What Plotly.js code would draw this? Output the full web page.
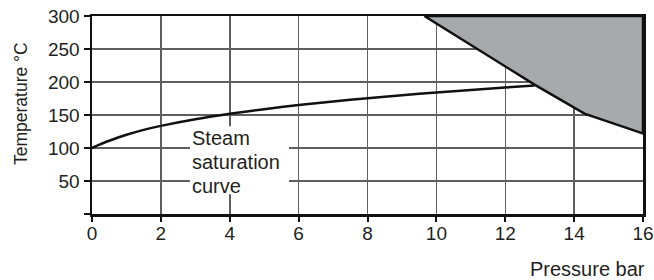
<!DOCTYPE html>
<html>
<head>
<meta charset="utf-8">
<script src="https://cdn.plot.ly/plotly-3.0.1.min.js"></script>
<style>
  html, body { margin: 0; padding: 0; background: #ffffff; }
  #chart { width: 654px; height: 280px; }
</style>
</head>
<body>
<div id="chart"></div>
<script>
// Steam saturation curve (pressure in bar, temperature in °C)
const curvePressure = [0, 0.25, 0.5, 1, 1.5, 2, 3, 4, 5, 6, 7, 8, 9, 10, 11, 12, 12.85];
const curveTemp     = [100, 106, 111, 120, 127.5, 133.5, 143.5, 151.8, 158.8, 165, 170.4, 175.4, 179.9, 184.1, 188, 191.6, 194.8];

// Shaded region boundary (upper right)
const zonePressure = [9.65, 12.85, 14.3, 16, 16, 9.65];
const zoneTemp     = [300, 196, 152, 122, 300, 300];

// Axis ticks
const xTickVals = [0, 2, 4, 6, 8, 10, 12, 14, 16];
const xTickText = ['0', '2', '4', '6', '8', '10', '12', '14', '16'];
const yTickVals = [0, 50, 100, 150, 200, 250, 300];
const yTickText = ['', '50', '100', '150', '200', '250', '300'];

// Text
const labelLines = ['Steam', 'saturation', 'curve'];
const xTitle = 'Pressure bar';
const yTitle = 'Temperature °C';

const FONT = '"Liberation Sans", Arial, sans-serif';
const TXT = '#231f20';

const traces = [
  {
    x: zonePressure, y: zoneTemp,
    type: 'scatter', mode: 'lines',
    fill: 'toself', fillcolor: '#a7a9ac',
    line: { color: '#111111', width: 2.5 },
    hoverinfo: 'skip', showlegend: false
  },
  {
    x: curvePressure, y: curveTemp,
    type: 'scatter', mode: 'lines',
    line: { color: '#111111', width: 2.5, shape: 'spline', smoothing: 0.6 },
    hoverinfo: 'skip', showlegend: false
  }
];

const labelY = [114.7, 79.1, 42.7];
const annotations = labelLines.map((t, i) => ({
  text: t, x: 2.845, y: labelY[i], xref: 'x', yref: 'y',
  xanchor: 'left', yanchor: 'middle', showarrow: false,
  font: { family: FONT, size: 20, color: TXT }
}));
annotations.push({
  text: xTitle, xref: 'paper', yref: 'paper', x: 1.007, y: -0.278,
  xanchor: 'right', yanchor: 'middle', showarrow: false,
  font: { family: FONT, size: 20, color: TXT }
});
annotations.push({
  text: yTitle, xref: 'paper', yref: 'paper', x: -0.129, y: 0.56,
  xanchor: 'center', yanchor: 'middle', textangle: -90, showarrow: false,
  font: { family: FONT, size: 17.5, color: TXT }
});

const layout = {
  width: 654, height: 280,
  margin: { l: 92, r: 11, t: 16, b: 66, pad: 0 },
  paper_bgcolor: '#ffffff', plot_bgcolor: '#ffffff',
  showlegend: false,
  font: { family: FONT, size: 20, color: TXT },
  xaxis: {
    range: [0, 16], tickvals: xTickVals, ticktext: xTickText,
    showgrid: true, gridcolor: '#5f5f5f', gridwidth: 1.5,
    showline: true, linecolor: '#111111', linewidth: 2.5, mirror: true,
    ticks: 'outside', ticklen: 5, tickwidth: 2, tickcolor: '#111111',
    ticklabelstandoff: -4,
    tickfont: { family: FONT, size: 19, color: TXT },
    zeroline: false, fixedrange: true
  },
  yaxis: {
    range: [0, 300], tickvals: yTickVals, ticktext: yTickText,
    showgrid: true, gridcolor: '#5f5f5f', gridwidth: 1.5,
    showline: true, linecolor: '#111111', linewidth: 2.5, mirror: true,
    ticks: 'outside', ticklen: 6, tickwidth: 2, tickcolor: '#111111',
    tickfont: { family: FONT, size: 19, color: TXT },
    zeroline: false, fixedrange: true
  },
  shapes: [
    {
      type: 'rect', xref: 'x', yref: 'y',
      x0: 2.845, x1: 5.72, y0: 29.8, y1: 132.9,
      fillcolor: '#ffffff', line: { width: 0 }, layer: 'between'
    }
  ],
  annotations: annotations
};

Plotly.newPlot('chart', traces, layout, { displayModeBar: false, staticPlot: true });
</script>
</body>
</html>
